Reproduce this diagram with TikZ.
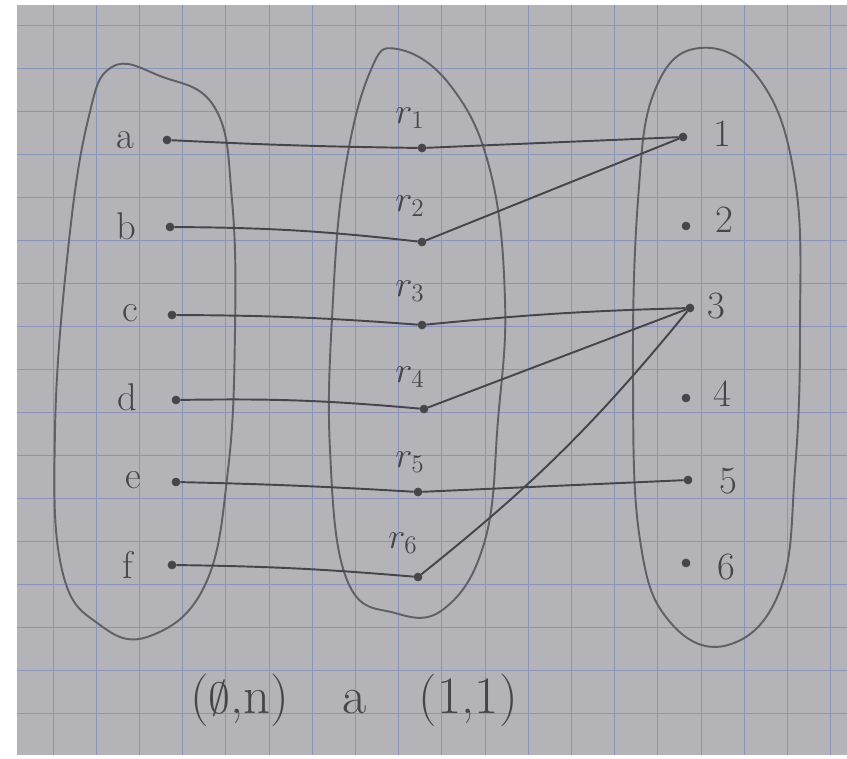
\documentclass[tikz,border=0pt]{standalone}
\usepackage{tikz}
\usepackage{xcolor}
\definecolor{papergray}{RGB}{180,180,184}
\definecolor{gridblue}{RGB}{138,148,186}
\definecolor{pencil}{RGB}{70,70,74}

\begin{document}
\begin{tikzpicture}[x=0.02cm, y=-0.02cm,
  dot/.style={circle, fill=pencil, draw=pencil, inner sep=0pt, minimum size=4.5pt},
  lbl/.style={text=pencil, font=\fontsize{22}{24}\selectfont},
  link/.style={pencil, line width=1.1pt},
  blob/.style={pencil!75!papergray, line width=1.1pt}]

\useasboundingbox (0,0) rectangle (847,759);

% Paper
\fill[white] (0,0) rectangle (847,759);
\fill[papergray] (17,5) rectangle (847,755);

% Grid
\begin{scope}
\clip (17,5) rectangle (847,755);
\foreach \i in {0,...,18} {
    \draw[gridblue, line width=0.5pt] ({53+43.2*\i},5) -- ({53+43.2*\i},755);
}
\foreach \j in {0,...,17} {
    \draw[gridblue, line width=0.5pt] (17,{25+43*\j}) -- (847,{25+43*\j});
}
\end{scope}

% Sets
\draw[blob] plot[smooth cycle, tension=0.7] coordinates {(112,67) (160,76) (215,108) (232,200) (235,330) (228,470) (205,585) (150,636) (100,625) (62,570) (55,430) (68,250) (88,120)};
\draw[blob] plot[smooth cycle, tension=0.7] coordinates {(397,49) (450,85) (490,170) (505,300) (498,420) (485,540) (445,608) (395,613) (347,580) (330,450) (333,300) (345,170) (370,72)};
\draw[blob] plot[smooth cycle, tension=0.7] coordinates {(700,48) (760,80) (795,180) (800,330) (795,470) (780,590) (728,645) (670,622) (640,540) (633,380) (638,200) (655,90)};

% Points
\foreach \n/\x/\y in {a/167/140, b/170/227, c/172/315, d/176/400, e/176/482, f/172/565} {
    \node[dot] (\n) at (\x,\y) {};
}
\foreach \n/\x/\y in {r1/422/148, r2/422/242, r3/422/325, r4/424/409, r5/418/492, r6/418/577} {
    \node[dot] (\n) at (\x,\y) {};
}
\foreach \n/\x/\y in {p1/683/137, p2/686/226, p3/690/308, p4/686/398, p5/688/480, p6/686/563} {
    \node[dot] (\n) at (\x,\y) {};
}

% Labels
\foreach \n/\t/\x/\y in {a/a/125/140, b/b/126/226, c/c/130/313, d/d/127/397, e/e/133/480, f/f/128/565} {
    \node[lbl] (l\n) at (\x,\y) {\t};
}
\foreach \i/\x/\y in {1/410/118, 2/410/206, 3/410/291, 4/410/377, 5/410/462, 6/403/543} {
    \node[lbl] (lr\i) at (\x,\y) {$r_{\i}$};
}
\foreach \i/\x/\y in {1/722/134, 2/724/220, 3/716/306, 4/722/394, 5/728/481, 6/726/567} {
    \node[lbl] (lp\i) at (\x,\y) {\i};
}

% Links
\draw[link] (a) to[bend right=1] (r1);
\draw[link] (b) to[bend left=3] (r2);
\draw[link] (c) to[bend left=2] (r3);
\draw[link] (d) to[bend left=3] (r4);
\draw[link] (e) to[bend left=1] (r5);
\draw[link] (f) to[bend left=2] (r6);

\draw[link] (r1) -- (p1);
\draw[link] (r2) -- (p1);
\draw[link] (r3) to[bend left=2] (p3);
\draw[link] (r4) -- (p3);
\draw[link] (r5) -- (p5);
\draw[link] (r6) to[bend right=6] (p3);

% Caption
\node[text=pencil, font=\fontsize{30}{32}\selectfont] (caption) at (354,700) {($\emptyset$,n)\quad a\quad (1,1)};

\end{tikzpicture}
\end{document}
